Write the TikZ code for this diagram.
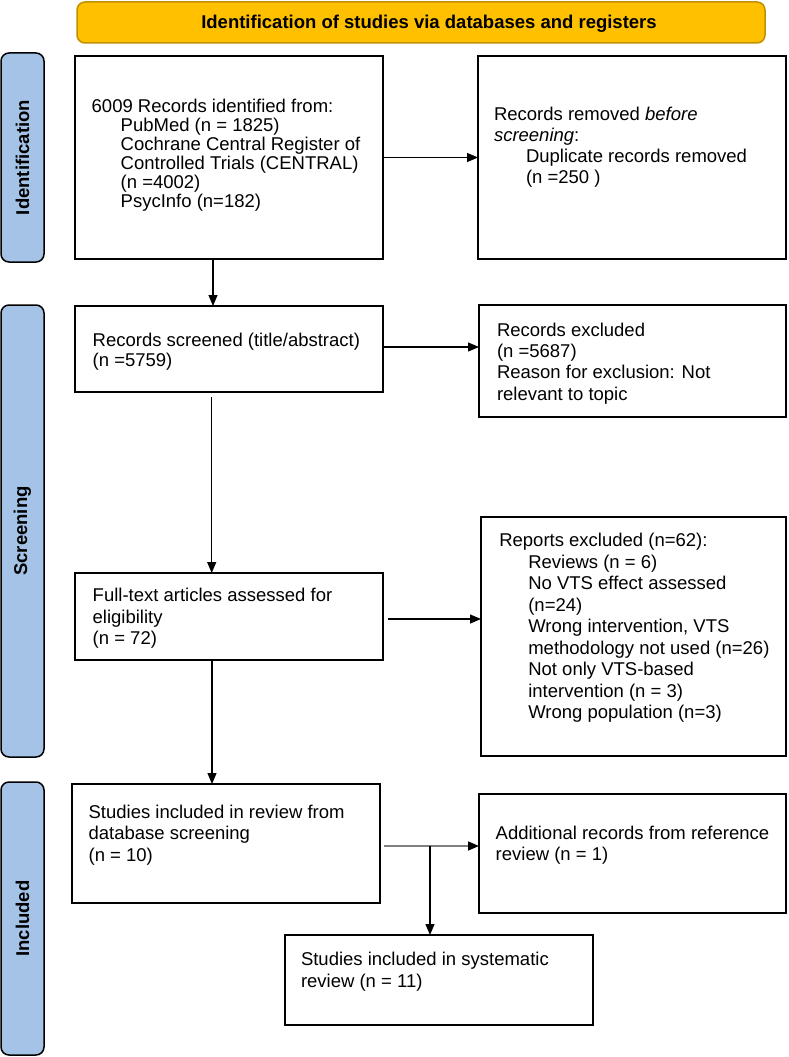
\documentclass[tikz,border=0pt]{standalone}
\usepackage{fontspec}
\setmainfont{Liberation Sans}
\usetikzlibrary{arrows.meta,calc}
\definecolor{bannerfill}{HTML}{FFC000}
\definecolor{bannerline}{HTML}{C09000}
\definecolor{sidefill}{HTML}{A4C3E6}
\newcommand{\txtlines}[2]{{\fontsize{18.5}{#1}\selectfont\begin{tabular}[t]{@{}l@{}}#2\end{tabular}}}
\newcommand{\ind}[1]{\hspace*{#1pt}}
\begin{document}
\begin{tikzpicture}[x=1pt,y=-1pt,
  box/.style={draw=black, line width=1.8pt, rectangle, inner sep=0pt, outer sep=0pt, anchor=north west},
  lbl/.style={anchor=base west, inner sep=0pt, outer sep=0pt},
  sidebar/.style={draw=black, line width=1.5pt, fill=sidefill, rounded corners=8pt, rotate=90, inner sep=0pt, outer sep=0pt, minimum height=43pt, font=\fontsize{18.5}{20}\selectfont\bfseries},
  arr/.style={draw=black, line width=1.2pt, -{Triangle[length=11pt,width=9pt]}},
  grayarr/.style={draw=gray, line width=1.5pt, -{Triangle[length=11pt,width=9pt,color=black,fill=black]}}
]
\useasboundingbox (0,0) rectangle (789,1057);

% banner
\node[draw=bannerline, fill=bannerfill, line width=1.5pt, rounded corners=8pt, minimum width=688pt, minimum height=41pt, inner sep=0pt] (banner) at (421,22.5) {};
\node[anchor=base, inner sep=0pt, font=\fontsize{18.5}{20}\selectfont\bfseries] (bannertxt) at (429,29) {Identification of studies via databases and registers};

% side bars
\node[sidebar, minimum width=209pt] (sb1) at (22.5,157.5) {Identification};
\node[sidebar, minimum width=452pt] (sb2) at (22.5,531) {Screening};
\node[sidebar, minimum width=273pt] (sb3) at (22.5,918.5) {Included};

% boxes
\node[box, minimum width=308pt, minimum height=203pt] (b1) at (75,56) {};
\node[box, minimum width=308pt, minimum height=203pt] (b2) at (478,56) {};
\node[box, minimum width=308pt, minimum height=86pt] (scr) at (75,306) {};
\node[box, minimum width=307pt, minimum height=112pt] (exc) at (479,305) {};
\node[box, minimum width=308pt, minimum height=87pt] (full) at (75,573) {};
\node[box, minimum width=305pt, minimum height=239pt] (rep) at (481,517) {};
\node[box, minimum width=308pt, minimum height=119pt] (inc) at (72,784) {};
\node[box, minimum width=307pt, minimum height=119pt] (add) at (479,794) {};
\node[box, minimum width=308pt, minimum height=90pt] (fin) at (285,935) {};

% texts
\node[lbl] (t1) at (91.7,112.3) {\txtlines{19}{6009 Records identified from:\\ \ind{29}PubMed (n = 1825)\\ \ind{29}Cochrane Central Register of\\ \ind{29}Controlled Trials (CENTRAL)\\ \ind{29}(n =4002)\\ \ind{29}PsycInfo (n=182)}};
\node[lbl] (t2) at (494,120.7) {\txtlines{20.8}{Records removed \textit{before}\\ \textit{screening}:\\ \ind{32}Duplicate records removed\\ \ind{32}(n =250 )}};
\node[lbl] (t3) at (92.7,346) {\txtlines{20.7}{Records screened (title/abstract)\\ (n =5759)}};
\node[lbl] (t4) at (497,336.7) {\txtlines{21.1}{Records excluded\\ (n =5687)\\ Reason for exclusion: Not\\ relevant to topic}};
\node[lbl] (t5) at (92.7,601.7) {\txtlines{21.6}{Full-text articles assessed for\\ eligibility\\ (n = 72)}};
\node[lbl] (t6) at (499.3,546.7) {\txtlines{21.5}{Reports excluded (n=62):\\ \ind{29}Reviews (n = 6)\\ \ind{29}No VTS effect assessed\\ \ind{29}(n=24)\\ \ind{29}Wrong intervention, VTS\\ \ind{29}methodology not used (n=26)\\ \ind{29}Not only VTS-based\\ \ind{29}intervention (n = 3)\\ \ind{29}Wrong population (n=3)}};
\node[lbl] (t7) at (88.6,818) {\txtlines{21.5}{Studies included in review from\\ database screening\\ (n = 10)}};
\node[lbl] (t8) at (495.7,839) {\txtlines{21.5}{Additional records from reference\\ review (n = 1)}};
\node[lbl] (t9) at (301,965.5) {\txtlines{21.5}{Studies included in systematic\\ review (n = 11)}};

% connectors
\draw[arr] (b1) -- (b2);
\draw[arr] ([xshift=-16pt]b1.south) -- ([xshift=-16pt]b1.south |- scr.north);
\draw[arr] ([yshift=2pt]scr.east) -- ([yshift=2pt]scr.east -| exc.west);
\draw[arr] ([xshift=-17.3pt,yshift=-5pt]scr.south) -- ([xshift=-17.3pt]scr.south |- full.north);
\draw[arr] ([xshift=5pt,yshift=-2.5pt]full.east) -- ([yshift=-2.5pt]full.east -| rep.west);
\draw[arr] ([xshift=-17pt]full.south) -- ([xshift=-17pt]full.south |- inc.north);
\draw[grayarr] ([xshift=4pt,yshift=-2.5pt]inc.east) -- ([yshift=-2.5pt]inc.east -| add.west) coordinate[pos=0.484] (j);
\draw[arr] (j) -- (j |- fin.north);
\end{tikzpicture}
\end{document}
